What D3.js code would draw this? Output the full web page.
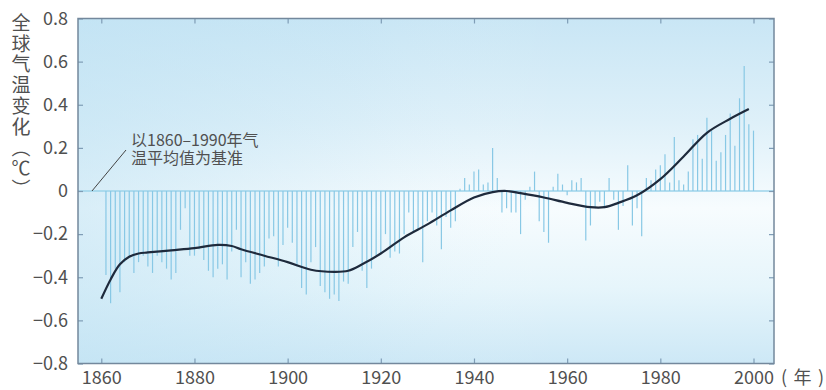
<!DOCTYPE html>
<html>
<head>
<meta charset="utf-8">
<script src="https://cdn.jsdelivr.net/npm/d3@7"></script>
<style>
  html, body { margin: 0; padding: 0; background: #fff; }
  svg text { font-family: "Noto Sans CJK SC", "Noto Sans", sans-serif; fill: #505050; }
</style>
</head>
<body>
<div id="chart"></div>
<script>
// annual anomalies, 1861-2000 (°C, vs 1860-1990 mean)
const firstYear = 1861;
const annual = [
  -0.39, -0.52, -0.36, -0.47, -0.33, -0.30, -0.38, -0.33, -0.30, -0.35, // 1861-1870
  -0.38, -0.30, -0.33, -0.36, -0.41, -0.38, -0.18, -0.08, -0.30, -0.30, // 1871-1880
  -0.27, -0.32, -0.37, -0.40, -0.36, -0.34, -0.41, -0.28, -0.18, -0.40, // 1881-1890
  -0.33, -0.43, -0.41, -0.38, -0.35, -0.22, -0.21, -0.35, -0.25, -0.17, // 1891-1900
  -0.24, -0.35, -0.45, -0.48, -0.33, -0.26, -0.44, -0.47, -0.50, -0.48, // 1901-1910
  -0.51, -0.42, -0.43, -0.26, -0.19, -0.37, -0.45, -0.36, -0.30, -0.29, // 1911-1920
  -0.20, -0.31, -0.28, -0.29, -0.20, -0.10, -0.19, -0.18, -0.33, -0.14, // 1921-1930
  -0.10, -0.16, -0.27, -0.12, -0.17, -0.14,  0.01,  0.06,  0.03,  0.09, // 1931-1940
   0.10,  0.03,  0.04,  0.20,  0.06, -0.10, -0.08, -0.10, -0.10, -0.20, // 1941-1950
  -0.04,  0.02,  0.09, -0.14, -0.19, -0.24,  0.02,  0.08,  0.03, -0.02, // 1951-1960
   0.05,  0.04,  0.06, -0.23, -0.16, -0.08, -0.05, -0.08,  0.06, -0.04, // 1961-1970
  -0.18, -0.07,  0.12, -0.16, -0.08, -0.21,  0.06,  0.05,  0.10,  0.12, // 1971-1980
   0.17,  0.04,  0.25,  0.05,  0.03,  0.09,  0.24,  0.26,  0.15,  0.34, // 1981-1990
   0.28,  0.14,  0.18,  0.26,  0.36,  0.21,  0.43,  0.58,  0.31,  0.28  // 1991-2000
];

// smoothed curve
const smoothYears = [1860, 1862, 1864, 1866, 1868, 1870, 1875, 1880, 1885, 1888, 1890, 1895,
  1900, 1905, 1910, 1913, 1916, 1920, 1925, 1930, 1935, 1940, 1944, 1947, 1950, 1955,
  1960, 1965, 1968, 1971, 1975, 1980, 1985, 1990, 1995, 1999];
const smoothVals = [-0.50, -0.41, -0.34, -0.305, -0.29, -0.285, -0.275, -0.265, -0.25, -0.255, -0.27, -0.30,
  -0.33, -0.365, -0.375, -0.37, -0.34, -0.29, -0.215, -0.155, -0.09, -0.03, -0.005, 0.0, -0.01, -0.03,
  -0.055, -0.075, -0.075, -0.055, -0.02, 0.055, 0.16, 0.27, 0.335, 0.38];

const xTicks = [1860, 1880, 1900, 1920, 1940, 1960, 1980, 2000];
const yTicks = [0.8, 0.6, 0.4, 0.2, 0, -0.2, -0.4, -0.6, -0.8];
const yTitle = "全球气温变化（℃）";
const noteLines = ["以1860–1990年气", "温平均值为基准"];

const W = 826, H = 390;
const pLeft = 78, pRight = 774, pTop = 18.5, pBottom = 363.5;

const svg = d3.select("#chart").append("svg")
  .attr("width", W).attr("height", H);

const x = d3.scaleLinear().domain([1855, 2004.4]).range([pLeft, pRight]);
const y = d3.scaleLinear().domain([-0.8, 0.8]).range([pBottom, pTop]);

// background
const defs = svg.append("defs");
const gv = defs.append("linearGradient").attr("id", "bgv")
  .attr("x1", 0).attr("y1", 0).attr("x2", 0).attr("y2", 1);
[[0, "#c9e6f5"], [0.3, "#def0f9"], [0.55, "#f7fcfe"], [0.78, "#e6f5fb"], [1, "#cde8f6"]]
  .forEach(([o, c]) => gv.append("stop").attr("offset", o).attr("stop-color", c));
const gh = defs.append("linearGradient").attr("id", "bgh")
  .attr("x1", 0).attr("y1", 0).attr("x2", 1).attr("y2", 0);
[[0, "#bfe2f3", 0.55], [0.4, "#bfe2f3", 0.15], [0.7, "#ffffff", 0]]
  .forEach(([o, c, a]) => gh.append("stop").attr("offset", o).attr("stop-color", c).attr("stop-opacity", a));

svg.append("rect").attr("x", pLeft).attr("y", pTop)
  .attr("width", pRight - pLeft).attr("height", pBottom - pTop).attr("fill", "url(#bgv)");
svg.append("rect").attr("x", pLeft).attr("y", pTop)
  .attr("width", pRight - pLeft).attr("height", pBottom - pTop).attr("fill", "url(#bgh)");

// zero line
svg.append("line")
  .attr("x1", pLeft).attr("x2", pRight)
  .attr("y1", y(0)).attr("y2", y(0))
  .attr("stroke", "#9dd3ea").attr("stroke-width", 1.5);

// annual bars
const bars = annual.map((v, i) => ({ year: firstYear + i, value: v }));
svg.selectAll("line.bar")
  .data(bars)
  .enter().append("line")
  .attr("class", "bar")
  .attr("x1", d => x(d.year)).attr("x2", d => x(d.year))
  .attr("y1", y(0)).attr("y2", d => y(d.value))
  .attr("stroke", "#88c8e5").attr("stroke-width", 1.2);

// smoothed curve
const curve = smoothYears.map((yr, i) => ({ year: yr, value: smoothVals[i] }));
const line = d3.line()
  .x(d => x(d.year))
  .y(d => y(d.value))
  .curve(d3.curveCatmullRom.alpha(0.5));
svg.append("path")
  .datum(curve)
  .attr("fill", "none")
  .attr("stroke", "#1e2a3c")
  .attr("stroke-width", 2.2)
  .attr("d", line);

// axes with inner ticks
const axisStyle = g => {
  g.select(".domain").remove();
  g.selectAll(".tick line").attr("stroke", "#7f9db6").attr("stroke-width", 1.2);
  g.selectAll(".tick text").attr("fill", "#505050").attr("font-size", 18);
};

svg.append("g")
  .attr("transform", `translate(0,${pBottom})`)
  .call(d3.axisBottom(x).tickValues(xTicks).tickSizeInner(-5).tickPadding(7.5).tickFormat(d3.format("d")))
  .call(axisStyle);

svg.append("g")
  .attr("transform", `translate(0,${pTop})`)
  .call(d3.axisTop(x).tickValues(xTicks).tickSizeInner(-5).tickFormat(""))
  .call(axisStyle);

svg.append("g")
  .attr("transform", `translate(${pLeft},0)`)
  .call(d3.axisLeft(y).tickValues(yTicks).tickSizeInner(-5).tickPadding(10)
    .tickFormat(d => d === 0 ? "0" : d3.format(".1f")(d).replace("-", "−")))
  .call(axisStyle);

svg.append("g")
  .attr("transform", `translate(${pRight},0)`)
  .call(d3.axisRight(y).tickValues(yTicks).tickSizeInner(-5).tickFormat(""))
  .call(axisStyle);

// frame
svg.append("rect")
  .attr("x", pLeft).attr("y", pTop)
  .attr("width", pRight - pLeft).attr("height", pBottom - pTop)
  .attr("fill", "none").attr("stroke", "#73889c").attr("stroke-width", 1.5);

// year unit
svg.append("text")
  .attr("x", 781).attr("y", 384)
  .attr("font-size", 18)
  .attr("letter-spacing", 1.2)
  .text("( 年 )");

// vertical y title
svg.append("text")
  .attr("x", 21).attr("y", 13)
  .attr("font-size", 19)
  .attr("letter-spacing", 1.8)
  .style("writing-mode", "vertical-rl")
  .text(yTitle);

// note with leader line
svg.append("line")
  .attr("x1", x(1858)).attr("y1", y(0))
  .attr("x2", 126).attr("y2", 150)
  .attr("stroke", "#444").attr("stroke-width", 1);

svg.append("text")
  .attr("font-size", 16)
  .attr("fill", "#404040")
  .selectAll("tspan")
  .data(noteLines)
  .enter().append("tspan")
  .attr("x", 131)
  .attr("y", (d, i) => 146 + i * 18)
  .text(d => d);
</script>
</body>
</html>
